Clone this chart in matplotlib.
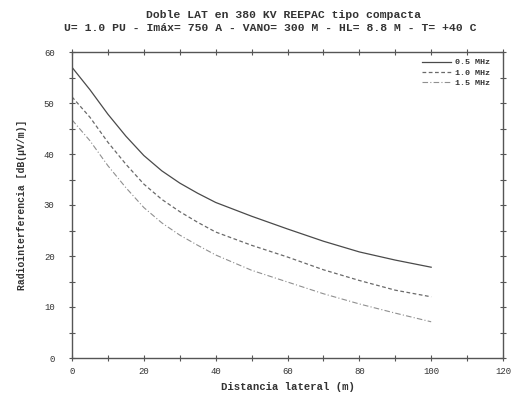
import matplotlib
matplotlib.use("Agg")
import matplotlib.pyplot as plt
from matplotlib.ticker import MultipleLocator

distancia = [0, 5, 10, 15, 20, 25, 30, 35, 40, 50, 60, 70, 80, 90, 100]
ri_05 = [57.0, 52.6, 47.8, 43.5, 39.7, 36.7, 34.3, 32.3, 30.5, 27.8, 25.3, 22.9, 20.8, 19.2, 17.8]
ri_10 = [51.2, 47.2, 42.3, 38.0, 34.1, 31.1, 28.7, 26.6, 24.7, 22.1, 19.8, 17.3, 15.2, 13.3, 12.0]
ri_15 = [46.7, 42.6, 37.7, 33.4, 29.5, 26.5, 24.1, 22.1, 20.2, 17.2, 14.9, 12.6, 10.6, 8.8, 7.1]
etiquetas = ["0.5 MHz", "1.0 MHz", "1.5 MHz"]

titulo1 = "Doble LAT en 380 KV REEPAC tipo compacta"
titulo2 = "U= 1.0 PU - Imáx= 750 A - VANO= 300 M - HL= 8.8 M - T= +40 C"

plt.rcParams['font.family'] = ['Liberation Mono', 'DejaVu Sans Mono']
txt = '#333333'

fig = plt.figure(figsize=(5.11, 4.0), dpi=100)
ax = fig.add_axes([72/511, 1-358/400, (503-72)/511, (358-52)/400])

ax.plot(distancia, ri_05, color='#4a4a4a', lw=0.9, ls='-', label=etiquetas[0])
ax.plot(distancia, ri_10, color='#6a6a6a', lw=0.9, ls=(0, (3, 2)), label=etiquetas[1])
ax.plot(distancia, ri_15, color='#909090', lw=0.8, ls=(0, (5, 2, 1, 2)), label=etiquetas[2])

ax.set_xlim(0, 120)
ax.set_ylim(0, 60)
ax.xaxis.set_major_locator(MultipleLocator(20))
ax.xaxis.set_minor_locator(MultipleLocator(10))
ax.yaxis.set_major_locator(MultipleLocator(10))
ax.yaxis.set_minor_locator(MultipleLocator(5))
ax.tick_params(which='both', direction='inout', top=True, right=True,
               colors='#555555', labelcolor=txt, labelsize=6.5, width=0.8)
ax.tick_params(which='major', length=5)
ax.tick_params(which='minor', length=4)
ax.tick_params(axis='x', pad=4)
ax.tick_params(axis='y', pad=10)
for s in ax.spines.values():
    s.set_color('#555555')
    s.set_linewidth(1.0)

ax.set_xlabel("Distancia lateral (m)", fontsize=7.7, color=txt, labelpad=4, fontweight='bold')
ax.set_ylabel("Radiointerferencia [dB(µV/m)]", fontsize=7.0, color=txt, labelpad=12, fontweight='bold')

fig.text(284/511, 1-15/400, titulo1, ha='center', va='center', fontsize=8.2, color=txt, fontweight='bold')
fig.text(270/511, 1-28/400, titulo2, ha='center', va='center', fontsize=8.2, color=txt, fontweight='bold')

leg = ax.legend(loc='upper right', frameon=False, fontsize=6, handlelength=3.5,
                handletextpad=0.5, labelspacing=0.3, borderaxespad=0.4,
                bbox_to_anchor=(0.985, 1.0))
for t in leg.get_texts():
    t.set_color(txt)
    t.set_fontweight('bold')

fig.savefig("out.png", dpi=100)
